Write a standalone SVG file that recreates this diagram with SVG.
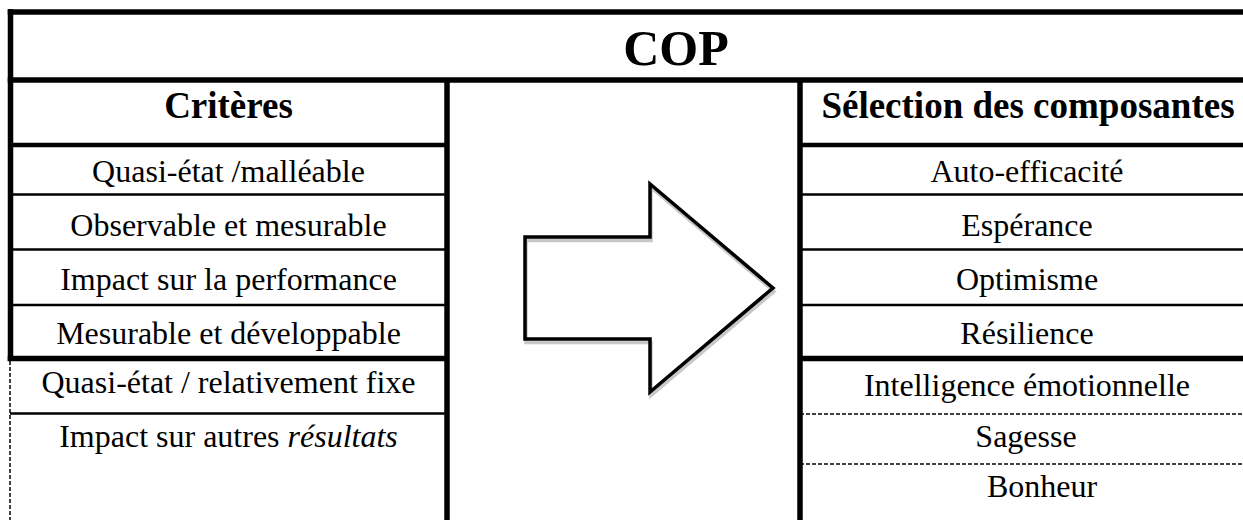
<svg xmlns="http://www.w3.org/2000/svg" width="1243" height="520" viewBox="0 0 1243 520">
<style>
.t{font-family:"Liberation Serif","Times New Roman",serif;font-size:32px;fill:#000;text-anchor:middle}
.h{font-family:"Liberation Serif","Times New Roman",serif;font-size:37px;font-weight:bold;fill:#000;text-anchor:middle}
.thick{stroke:#000;stroke-width:5.5;fill:none}
.mid{stroke:#000;stroke-width:4.5;fill:none}
.thin{stroke:#000;stroke-width:2.5;fill:none}
.dash{stroke:#000;stroke-width:1.5;stroke-dasharray:4 2;fill:none}
</style>
<rect width="1243" height="520" fill="#fff"/>
<g id="connectors">
  <!-- outer / header lines -->
  <line class="thick" x1="7.75" y1="12" x2="1243" y2="12"/>
  <line class="thick" x1="10.5" y1="9.25" x2="10.5" y2="361"/>
  <line class="thick" x1="7.75" y1="80" x2="1243" y2="80"/>
  <!-- column dividers -->
  <line class="thick" x1="447" y1="80" x2="447" y2="520"/>
  <line class="thick" x1="800" y1="80" x2="800" y2="520"/>
  <!-- left column rows -->
  <line class="mid" x1="10" y1="145" x2="447" y2="145"/>
  <line class="thin" x1="10" y1="194.5" x2="447" y2="194.5"/>
  <line class="thin" x1="10" y1="249.5" x2="447" y2="249.5"/>
  <line class="thin" x1="10" y1="305" x2="447" y2="305"/>
  <line class="thick" x1="7.75" y1="358.5" x2="447" y2="358.5"/>
  <line class="thin" x1="10" y1="413.5" x2="447" y2="413.5"/>
  <line class="dash" x1="10" y1="361" x2="10" y2="520"/>
  <!-- right column rows -->
  <line class="mid" x1="800" y1="145" x2="1243" y2="145"/>
  <line class="thin" x1="800" y1="194.5" x2="1243" y2="194.5"/>
  <line class="thin" x1="800" y1="249.5" x2="1243" y2="249.5"/>
  <line class="thin" x1="800" y1="305" x2="1243" y2="305"/>
  <line class="thick" x1="800" y1="358.5" x2="1243" y2="358.5"/>
  <line class="dash" x1="800" y1="414" x2="1243" y2="414"/>
  <line class="dash" x1="800" y1="464" x2="1243" y2="464"/>
</g>
<g id="title">
  <text x="676" y="65" style="font-family:'Liberation Serif','Times New Roman',serif;font-size:50px;font-weight:bold;text-anchor:middle">COP</text>
</g>
<g id="criteres">
  <text class="h" x="228.5" y="118">Critères</text>
  <text class="t" x="228.5" y="182">Quasi-état /malléable</text>
  <text class="t" x="228.5" y="236">Observable et mesurable</text>
  <text class="t" x="228.5" y="290">Impact sur la performance</text>
  <text class="t" x="228.5" y="344">Mesurable et développable</text>
  <text class="t" x="228.5" y="393">Quasi-état / relativement fixe</text>
  <text class="t" x="228.5" y="447">Impact sur autres <tspan font-style="italic">résultats</tspan></text>
</g>
<g id="arrow">
  <polygon points="525,237 650,237 650,184 773,288 650,392 650,339 525,339" fill="#fff"/>
  <polygon points="525,237 650,237 650,184 773,288 650,392 650,339 525,339" fill="none" stroke="#c8c8c8" stroke-width="3.5" transform="translate(1,3.5)"/>
  <polygon points="525,237 650,237 650,184 773,288 650,392 650,339 525,339" fill="none" stroke="#000" stroke-width="3.5" stroke-miterlimit="10"/>
</g>
<g id="composantes">
  <text class="h" x="1028" y="118">Sélection des composantes</text>
  <text class="t" x="1027" y="182">Auto-efficacité</text>
  <text class="t" x="1027" y="236">Espérance</text>
  <text class="t" x="1027" y="290">Optimisme</text>
  <text class="t" x="1027" y="344">Résilience</text>
  <text class="t" x="1027" y="396">Intelligence émotionnelle</text>
  <text class="t" x="1026" y="447">Sagesse</text>
  <text class="t" x="1042" y="497">Bonheur</text>
</g>
</svg>
